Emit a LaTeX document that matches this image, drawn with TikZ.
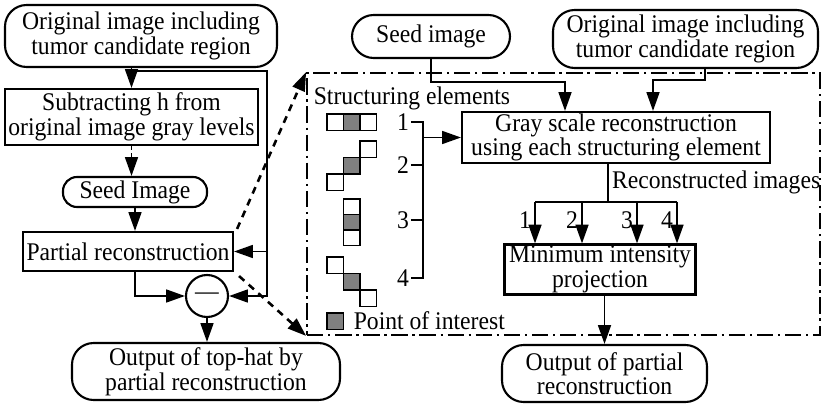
\documentclass[tikz,border=0pt]{standalone}
\usepackage{fontspec}
\setmainfont{Liberation Serif}[FakeStretch=0.93]
\usepackage{tikz}
\usetikzlibrary{arrows.meta}

\begin{document}
\begin{tikzpicture}[x=0.03cm, y=-0.03cm,
    font=\fontsize{21.7}{21}\selectfont,
    line width=1.5pt,
    term/.style={draw, rounded corners=0.65cm, align=center, inner sep=0pt, line width=1.8pt},
    stepbox/.style={draw, align=center, inner sep=0pt, line width=1.8pt},
    arrow/.style={-{Triangle[length=16pt, width=11pt]}},
    zoomline/.style={arrow, dash pattern=on 6pt off 5pt, line width=2.2pt},
    frame/.style={draw, dash pattern=on 14pt off 4pt on 2pt off 4pt, inner sep=0pt},
    cell/.style={draw, line width=1.2pt},
    poi/.style={cell, fill=black!50}
]
\useasboundingbox (0,0) rectangle (823,404);

% Top-hat by partial reconstruction
\node[term, minimum width=8.16cm, minimum height=1.86cm] (orig1) at (141,36) {Original image including\\tumor candidate region};
\node[stepbox, minimum width=7.59cm, minimum height=1.68cm] (subtr) at (131.5,117) {Subtracting h from\\original image gray levels};
\node[term, rounded corners=0.42cm, minimum width=4.32cm, minimum height=0.9cm] (seed1) at (135,192) {Seed Image};
\node[stepbox, minimum width=6.3cm, minimum height=1.17cm] (partial) at (128,251.5) {Partial reconstruction};
\node[draw, circle, minimum size=1.26cm, inner sep=0pt, line width=1.8pt] (minus) at (207,296) {---};
\node[term, minimum width=8.04cm, minimum height=1.71cm] (tophat) at (206,371.5) {Output of top-hat by\\partial reconstruction};

\coordinate (lj) at (267,71);
\draw[arrow] (orig1.south -| subtr.north) -- (subtr.north);
\draw[arrow] (lj -| subtr.north) -- (lj) |- (minus.east);
\draw[arrow] (lj |- partial.east) -- (partial.east);
\draw[arrow, dashed] (subtr.south) -- (subtr.south |- seed1.north);
\draw[arrow] (seed1.south) -- (seed1.south |- partial.north);
\draw[arrow] (partial.south -| seed1.south) |- (minus.west);
\draw[arrow] (minus.south) -- (minus.south |- tophat.north);

% Detail of the partial reconstruction
\node[frame, minimum width=15.39cm, minimum height=7.86cm] (detail) at (563.5,204) {};
\draw[zoomline] ([shift={(3,-2)}]partial.north east) -- (detail.north west);
\draw[zoomline] ([shift={(5,4)}]partial.south east) -- (detail.south west);

\node[term, minimum width=4.74cm, minimum height=1.29cm] (seed2) at (431,36.5) {Seed image};
\node[term, minimum width=7.95cm, minimum height=1.74cm] (orig2) at (685.5,39) {Original image including\\tumor candidate region};
\node[stepbox, minimum width=9.24cm, minimum height=1.53cm] (gray) at (616,137.5) {Gray scale reconstruction\\using each structuring element};
\node[stepbox, minimum width=5.73cm, minimum height=1.5cm] (minproj) at (600,269.5) {Minimum intensity\\projection};
\node[term, minimum width=6.15cm, minimum height=1.71cm] (outpart) at (604.5,373.5) {Output of partial\\reconstruction};

\coordinate (sj) at (565,82);
\coordinate (oj) at (705,80);
\coordinate (ok) at (653,80);
\draw[arrow] (seed2.south) |- (sj) -- (sj |- gray.north);
\draw[arrow] (orig2.south -| oj) -- (oj) -- (ok) -- (ok |- gray.north);

% Structuring elements
\node[anchor=west] (selabel) at (309,98) {Structuring elements};
\draw[cell] (327,114) rectangle ++(16.5,16.5);
\draw[poi] (343.5,114) rectangle ++(16.5,16.5);
\draw[cell] (360,114) rectangle ++(16.5,16.5);
\draw[cell] (360,141) rectangle ++(16.5,16.5);
\draw[poi] (343.5,157.5) rectangle ++(16.5,16.5);
\draw[cell] (327,174) rectangle ++(16.5,16.5);
\draw[cell] (343.5,199) rectangle ++(16.5,15.5);
\draw[poi] (343.5,214.5) rectangle ++(16.5,15.5);
\draw[cell] (343.5,230) rectangle ++(16.5,15.5);
\draw[cell] (327,257) rectangle ++(16.5,16.5);
\draw[poi] (343.5,273.5) rectangle ++(16.5,16.5);
\draw[cell] (360,290) rectangle ++(16.5,16.5);

\coordinate (brk) at (423,0);
\foreach \k/\y in {1/122,2/165,3/220,4/278}
    \node[inner sep=1pt] (n\k) at (403,\y) {\k};
\draw (n1.east) -| (brk |- n4.east) -- (n4.east);
\draw (n2.east) -- (n2.east -| brk);
\draw (n3.east) -- (n3.east -| brk);
\draw[arrow] (brk |- gray.west) -- (gray.west);

% Point of interest
\draw[poi] (327,313) rectangle ++(16.5,16.5);
\node[anchor=west] (poilabel) at (349,321) {Point of interest};

% Reconstructed images
\coordinate (rs) at (608,202);
\draw (gray.south -| rs) -- (rs);
\node[anchor=west, inner sep=1pt] (rlabel) at (610,182) {Reconstructed images};
\foreach \k/\x in {1/535,2/582,3/637,4/677} {
    \coordinate (r\k) at (\x,202);
    \draw[arrow] (r\k) -- (r\k |- minproj.north);
    \node[anchor=east, inner sep=1pt] (m\k) at (\x-2,220) {\k};
}
\draw (r1) -- (r4);
\draw[arrow] (minproj.south -| outpart.north) -- (outpart.north);

\end{tikzpicture}
\end{document}
